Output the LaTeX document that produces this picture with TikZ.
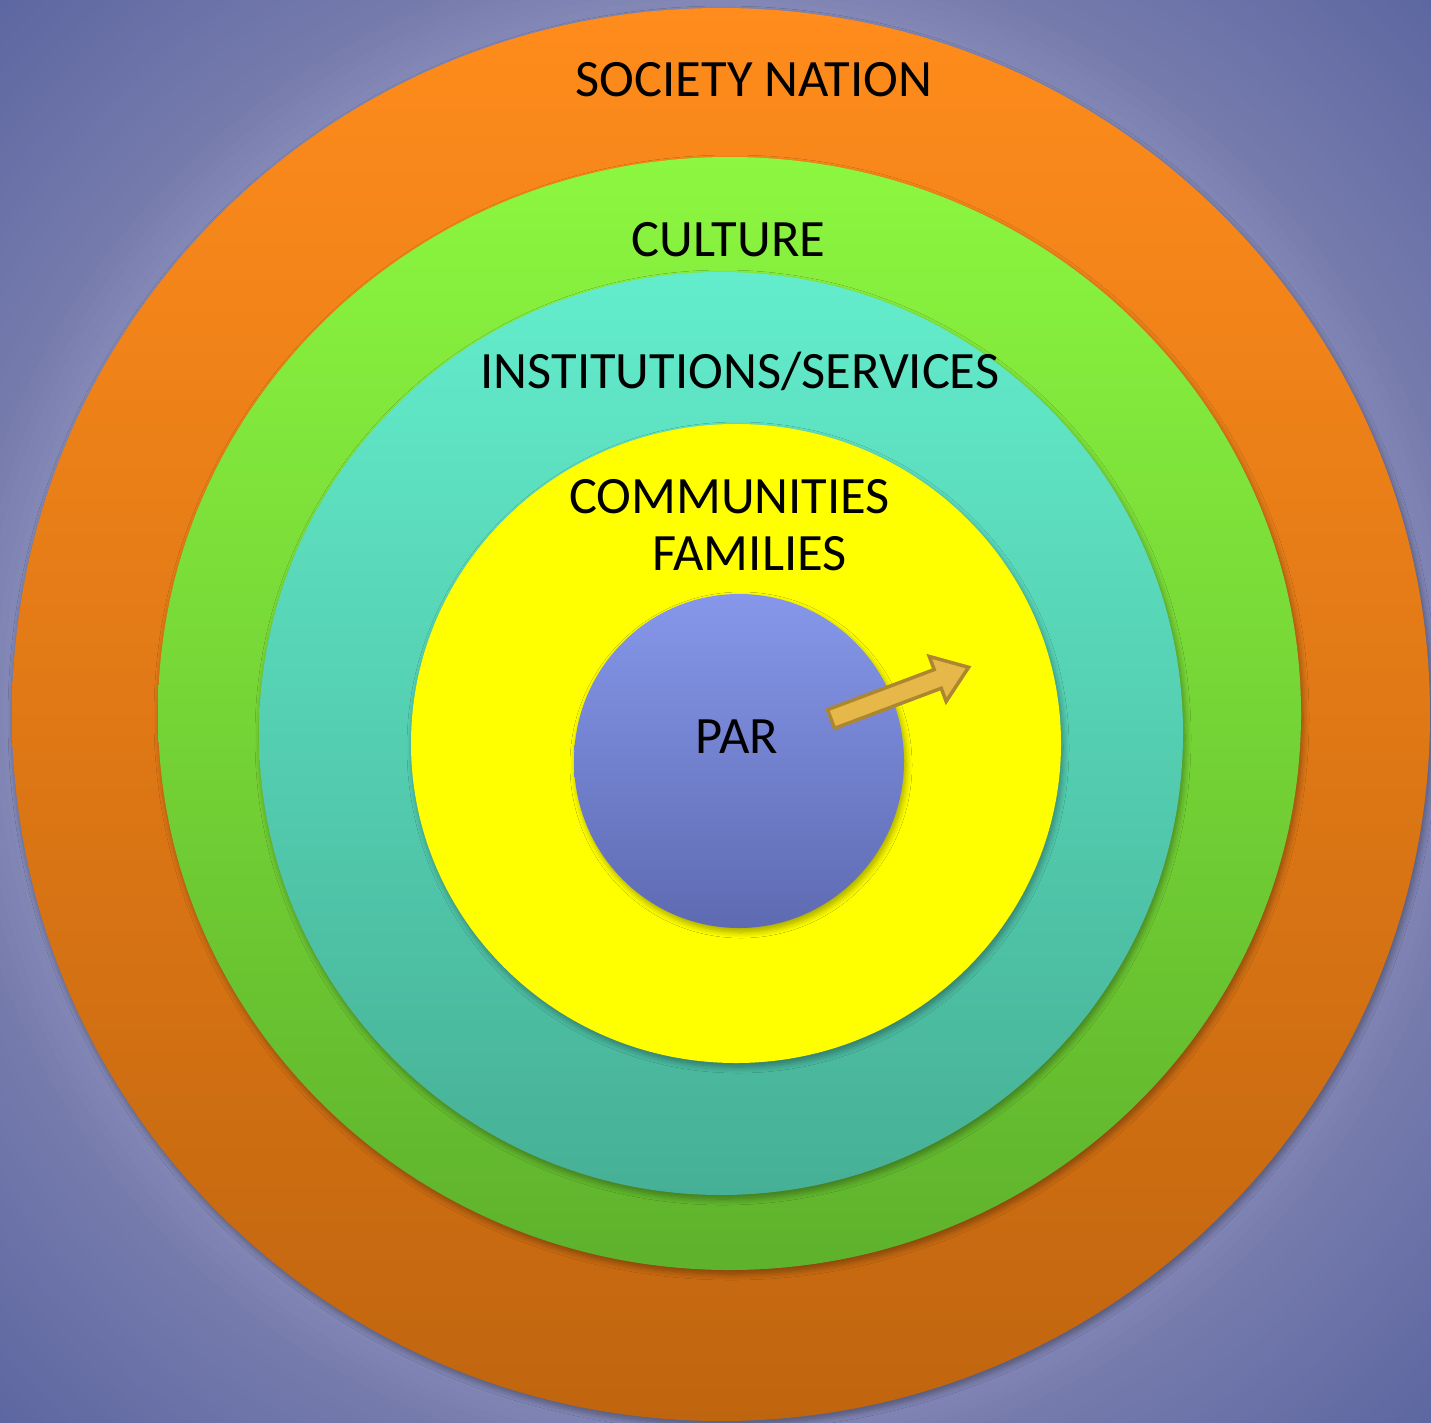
\documentclass[tikz,border=0pt]{standalone}
\usepackage{fontspec}
\setmainfont{Carlito}
\usetikzlibrary{shadows.blur}
\definecolor{bgmidA}{HTML}{878BB8}
\definecolor{bgmidB}{HTML}{767BAD}
\definecolor{bgout}{HTML}{5C66A0}
\definecolor{orTop}{HTML}{FF8C1C}
\definecolor{orBot}{HTML}{C0650F}
\definecolor{grTop}{HTML}{8CF740}
\definecolor{grBot}{HTML}{5EB22C}
\definecolor{tlTop}{HTML}{63EDCC}
\definecolor{tlBot}{HTML}{46B096}
\definecolor{ylw}{HTML}{FFFF00}
\definecolor{puTop}{HTML}{8697EA}
\definecolor{puBot}{HTML}{5E6BB2}
\definecolor{arFill}{HTML}{E6B84A}
\definecolor{arLine}{HTML}{AD8630}
\tikzset{
  ring/.style={blur shadow={shadow xshift=2pt, shadow yshift=-4pt, shadow blur steps=8, shadow blur radius=6pt, shadow opacity=35}},
  lbl/.style={font=\fontsize{52.5}{60}\selectfont, text=black, inner sep=0pt, anchor=base}
}
\begin{document}
\begin{tikzpicture}[x=1pt,y=-1pt]
\useasboundingbox (0,0) rectangle (1431,1422);
% background: radial gradient drawn as concentric discs
\fill[bgout] (0,0) rectangle (1431,1422);
\foreach \r in {1016,1008,...,776}{
  \pgfmathsetmacro\p{(\r-770)/(1020-770)*100}
  \fill[bgout!\p!bgmidB] (715,711) circle[radius=\r pt];
}
\foreach \r in {768,760,...,600}{
  \pgfmathsetmacro\p{max(0,(\r-690))/(770-690)*100}
  \fill[bgmidB!\p!bgmidA] (715,711) circle[radius=\r pt];
}
% rings
\shade[ring, top color=orTop, bottom color=orBot] (721,714.5) ellipse [x radius=709pt, y radius=706.5pt];
\shade[ring, top color=grTop, bottom color=grBot] (729.5,713.5) ellipse [x radius=571.5pt, y radius=556.5pt];
\shade[ring, top color=tlTop, bottom color=tlBot] (721,733.5) ellipse [x radius=462pt, y radius=461.5pt];
\fill[ring, ylw] (736,743.5) ellipse [x radius=325pt, y radius=319.5pt];
\shade[ring, top color=puTop, bottom color=puBot] (739,761) ellipse [x radius=165pt, y radius=167pt];
% arrow
\begin{scope}[shift={(831,719)}, rotate=20.6]
\draw[fill=arFill, draw=arLine, line width=3.5pt, line join=miter]
  (0,-10) -- (114,-10) -- (114,-24) -- (147,0) -- (114,24) -- (114,10) -- (0,10) -- cycle;
\end{scope}
% labels
\node[lbl] (society) at (754,96) {SOCIETY NATION};
\node[lbl] (culture) at (728.5,256) {CULTURE};
\node[lbl] (inst) at (740,388) {INSTITUTIONS/SERVICES};
\node[lbl] (comm) at (729.5,513) {COMMUNITIES};
\node[lbl] (fam) at (749.5,570) {FAMILIES};
\node[lbl] (par) at (737,753) {PAR};
\end{tikzpicture}
\end{document}
